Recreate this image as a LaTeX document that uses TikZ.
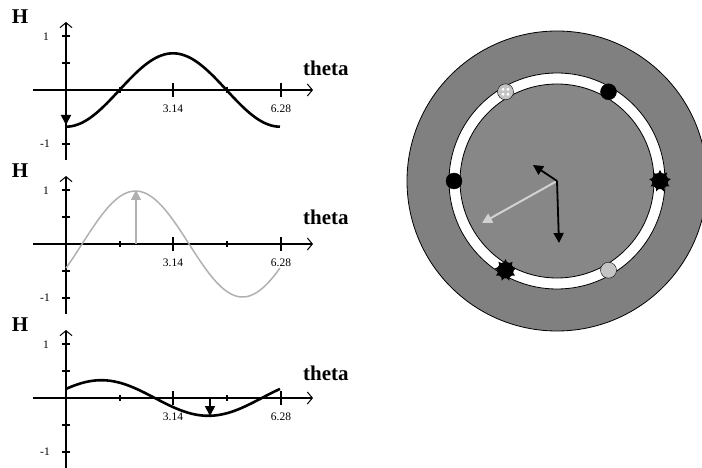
\documentclass[tikz,border=0pt]{standalone}
\usepackage{fontspec}
\setmainfont{Liberation Serif}
\usetikzlibrary{arrows.meta,shapes.geometric}
\definecolor{stator}{HTML}{808080}
\definecolor{rotor}{HTML}{878787}
\definecolor{faint}{HTML}{B0B0B0}
\definecolor{pale}{HTML}{C4C4C4}
\definecolor{glow}{HTML}{D2D2D2}

\begin{document}
\begin{tikzpicture}[x=1pt,y=-1pt,
  ax/.style={line width=1.3pt,-{Straight Barb[length=5pt,width=12pt,line width=1pt]}},
  tk/.style={line width=1.1pt},
  lab/.style={font=\fontsize{21}{21}\selectfont\bfseries,inner sep=0pt},
  num/.style={font=\fontsize{11.5}{11.5}\selectfont,inner sep=0pt},
  wave/.style={line width=2.6pt,line join=round},
  hand/.style={line width=1.8pt,-{Triangle[length=10pt,width=10pt]}},
  pole/.style={circle,draw=black,minimum size=16pt,inner sep=0pt}
]
\useasboundingbox (0,0) rectangle (702,468);

\foreach \yo/\ty in {90/76,244/225,398/380}{
  \draw[ax] (66,\yo+70) -- (66,\yo-68);
  \draw[ax] (33,\yo) -- (313,\yo);
  \foreach \v in {-54,-27,27,54} \draw[tk] (62,\yo+\v) -- (70,\yo+\v);
  \draw[tk] (173,\yo-7) -- (173,\yo+7);
  \draw[tk] (281,\yo-7) -- (281,\yo+7);
  \draw[tk] (120,\yo-3) -- (120,\yo+3);
  \draw[tk] (227,\yo-3) -- (227,\yo+3);
  \node[num] at (46,\yo-53) {1};
  \node[num] at (45,\yo+54) {-1};
  \node[num] at (173,\yo+19) {3.14};
  \node[num] at (281,\yo+19) {6.28};
  \node[lab] at (20,\yo-73) {H};
  \node[lab,anchor=base west] at (303,\ty) {theta};
}

\draw[wave] plot[domain=0:6.283,samples=80,smooth] ({66+34.06*\x},{90+36.7*cos(\x r)});
\draw[hand] (66,90) -- (66,125);

\draw[faint,line width=1.5pt] plot[domain=0:6.283,samples=80,smooth] ({66+34.06*\x},{244-53*sin((\x-0.471) r)});
\draw[hand,faint,line width=1.3pt] (136,244) -- (136,190);

\draw[wave] plot[domain=0:6.283,samples=80,smooth] ({66+34.06*\x},{398-17.8*sin((\x+0.534) r)});
\draw[hand] (210,398) -- (210,416);

\coordinate (c) at (557,181);
\fill[stator,draw=black,line width=0.8pt] (c) circle (150pt);
\fill[white,draw=black,line width=0.8pt] (c) circle (108pt);
\fill[rotor,draw=black,line width=0.8pt] (c) circle (97pt);

\node[star,star points=9,star point ratio=1.6,fill=black,minimum size=22pt,inner sep=0pt] at ([shift={(0:103pt)}]c) {};
\node[star,star points=9,star point ratio=1.6,fill=black,minimum size=22pt,inner sep=0pt] at ([shift={(240:103pt)}]c) {};
\node[pole,fill=black] (p0) at ([shift={(0:103pt)}]c) {};
\node[pole,fill=black] (p60) at ([shift={(60:103pt)}]c) {};
\node[pole,fill=pale] (p120) at ([shift={(120:103pt)}]c) {};
\node[pole,fill=black] (p180) at ([shift={(180:103pt)}]c) {};
\node[pole,fill=black] (p240) at ([shift={(240:103pt)}]c) {};
\node[pole,fill=pale] (p300) at ([shift={(300:103pt)}]c) {};
\foreach \d in {45,135,225,315} \fill[white] ([shift={(\d:3.5pt)}]p120) circle (1.6pt);

\coordinate (ta) at (533,165);
\coordinate (tb) at (559,243);
\coordinate (tc) at (482,223);
\draw[hand,glow,line width=2pt] (c) -- (tc);
\draw[hand] (c) -- (ta);
\draw[hand] (c) -- (tb);
\end{tikzpicture}
\end{document}
